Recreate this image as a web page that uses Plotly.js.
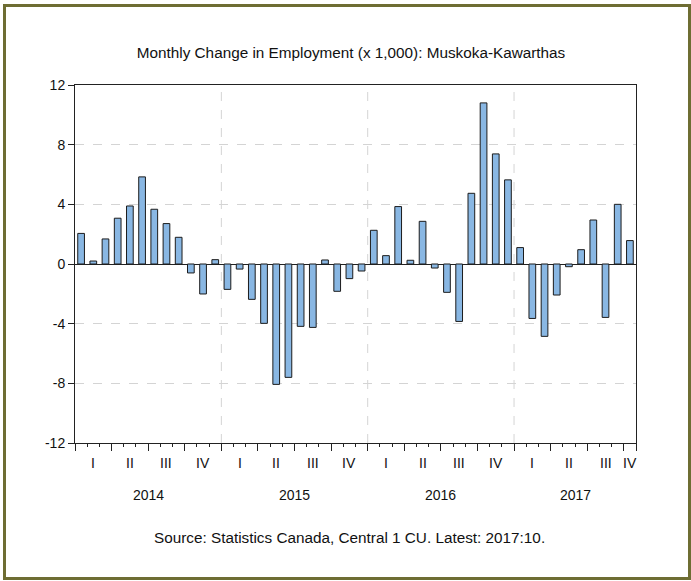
<!DOCTYPE html>
<html>
<head>
<meta charset="utf-8">
<script src="https://cdn.plot.ly/plotly-3.0.1.min.js"></script>
<style>
  html, body { margin: 0; padding: 0; background: #ffffff; }
  #wrap { position: relative; width: 691px; height: 581px; }
  #chart { position: absolute; left: 0; top: 0; width: 691px; height: 581px; }
  #frame { position: absolute; left: 3px; top: 4px; width: 688px; height: 576px;
           box-sizing: border-box; border: 3px solid #6e6d33; pointer-events: none; }
</style>
</head>
<body>
<div id="wrap"><div id="chart"></div><div id="frame"></div></div>
<script>
// ---- data (thousands, monthly change), 2014:01 .. 2017:10 ----
const years = ['2014', '2015', '2016', '2017'];
const quarterLabels = ['I', 'II', 'III', 'IV'];
const change2014 = [2.05, 0.2, 1.68, 3.07, 3.89, 5.84, 3.67, 2.71, 1.79, -0.6, -2.01, 0.29];
const change2015 = [-1.7, -0.34, -2.37, -3.98, -8.07, -7.6, -4.18, -4.25, 0.27, -1.83, -0.98, -0.47];
const change2016 = [2.26, 0.56, 3.85, 0.25, 2.86, -0.27, -1.9, -3.85, 4.74, 10.8, 7.38, 5.64];
const change2017 = [1.1, -3.65, -4.85, -2.08, -0.18, 0.96, 2.95, -3.58, 4.0, 1.57];
const titleText = 'Monthly Change in Employment (x 1,000): Muskoka-Kawarthas';
const sourceText = 'Source: Statistics Canada, Central 1 CU. Latest: 2017:10.';

const values = [].concat(change2014, change2015, change2016, change2017);
const n = values.length;
const xIdx = values.map((v, i) => i);
const labels = values.map((v, i) => years[Math.floor(i / 12)] + ':' + String(i % 12 + 1).padStart(2, '0'));

// tick geometry derived from the month index
const monthBounds = [];
for (let k = 0; k <= n; k++) monthBounds.push(k - 0.5);
const quarterBounds = monthBounds.filter((b, k) => k % 3 === 0 || k === n);
const yearBounds = monthBounds.filter((b, k) => k % 12 === 0 && k > 0 && k < n);

const annotations = [];
years.forEach((yr, yi) => {
  const first = yi * 12, last = Math.min(yi * 12 + 11, n - 1);
  annotations.push({ x: (first + last) / 2, y: -0.146, xref: 'x', yref: 'paper',
    text: yr, showarrow: false, yanchor: 'middle', font: { size: 14, color: '#111' } });
  quarterLabels.forEach((q, qi) => {
    const qf = first + qi * 3;
    if (qf > n - 1) return;
    const ql = Math.min(qf + 2, n - 1);
    annotations.push({ x: (qf + ql) / 2, y: -0.056, xref: 'x', yref: 'paper',
      text: q, showarrow: false, yanchor: 'middle', font: { size: 14, color: '#111' } });
  });
});
annotations.push({ x: 0.49, y: -0.2626, xref: 'paper', yref: 'paper', text: sourceText,
  showarrow: false, yanchor: 'middle', font: { size: 15.3, color: '#111' } });

const shapes = yearBounds.map(b => ({ type: 'line', xref: 'x', yref: 'paper', x0: b, x1: b, y0: 0, y1: 1,
  layer: 'below', line: { color: '#d4d4d4', width: 1, dash: 'dash' } }));

const trace = {
  type: 'bar', x: xIdx, y: values, hovertext: labels, hoverinfo: 'text+y', textposition: 'none',
  width: 0.55,
  marker: { color: '#89b7e3', line: { color: '#1c1c1c', width: 1 } }
};

const layout = {
  width: 691, height: 581,
  margin: { l: 75, r: 55, t: 85, b: 138 },
  paper_bgcolor: '#ffffff', plot_bgcolor: '#ffffff',
  font: { family: 'Liberation Sans, Arial, sans-serif', color: '#111' },
  title: { text: titleText, x: 0.508, xref: 'container', y: 1 - 53 / 581, yref: 'container',
           yanchor: 'middle', font: { size: 15.3, color: '#111' } },
  showlegend: false,
  bargap: 0,
  xaxis: {
    range: [-0.5, n - 0.5], showgrid: false, zeroline: false,
    showline: true, linecolor: '#222', linewidth: 1, mirror: true,
    tickmode: 'array', tickvals: quarterBounds, ticktext: quarterBounds.map(() => ' '),
    ticks: 'outside', ticklen: 7, tickcolor: '#222', tickwidth: 1,
    minor: { tickmode: 'array', tickvals: monthBounds, ticks: 'outside', ticklen: 3,
             tickcolor: '#222', tickwidth: 1, showgrid: false },
    fixedrange: true
  },
  yaxis: {
    range: [-12, 12], tickmode: 'array', tickvals: [-12, -8, -4, 0, 4, 8, 12],
    ticktext: ['-12', '-8', '-4', '0', '4', '8', '12'],
    ticks: 'outside', ticklen: 6, tickcolor: '#222',
    showline: true, linecolor: '#222', linewidth: 1, mirror: true,
    showgrid: true, gridcolor: '#d4d4d4', griddash: 'dash', gridwidth: 1,
    zeroline: true, zerolinecolor: '#222', zerolinewidth: 1,
    tickfont: { size: 14, color: '#111' }, fixedrange: true
  },
  annotations: annotations,
  shapes: shapes
};

Plotly.newPlot('chart', [trace], layout, { displayModeBar: false, staticPlot: true });
</script>
</body>
</html>
